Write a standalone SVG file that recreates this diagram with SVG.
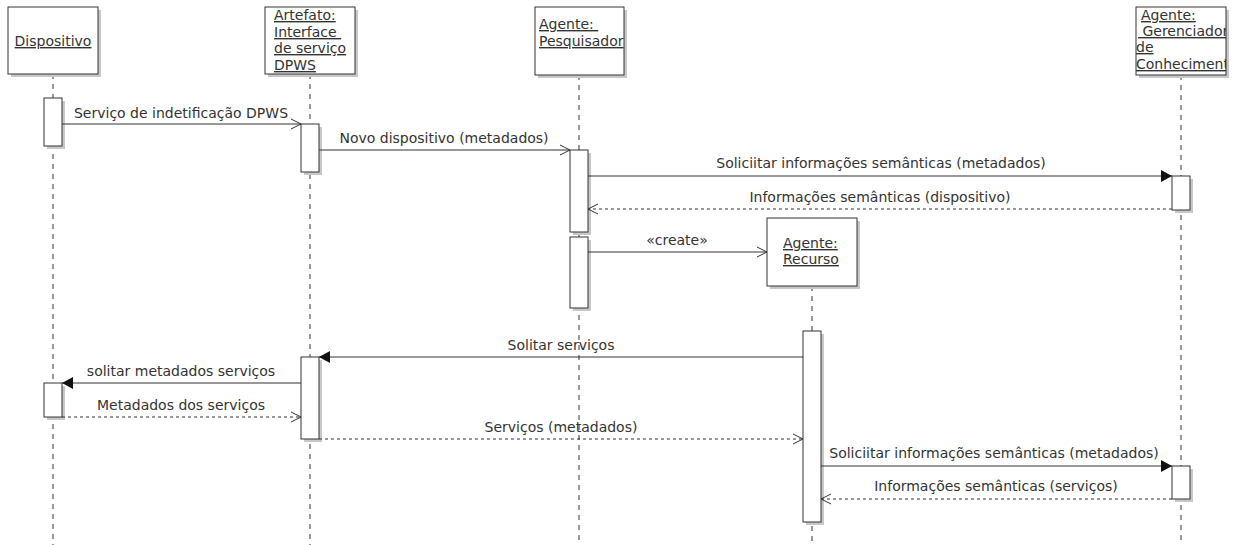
<svg xmlns="http://www.w3.org/2000/svg" width="1233" height="545" viewBox="0 0 1233 545">
<style>
text{font-family:"DejaVu Sans","Liberation Sans",sans-serif;font-size:14px;fill:#333;white-space:pre}
.u{text-decoration:underline}
.m{text-anchor:middle}
.box{fill:#fff;stroke:#333;stroke-width:1}
.sh{fill:#c8c8c8}
.life{stroke:#333;stroke-width:1;stroke-dasharray:5 5;fill:none}
.msg{stroke:#333;stroke-width:1;fill:none}
.dash{stroke-dasharray:3 3}
.open{marker-end:url(#open)}
.fill{marker-end:url(#filled)}
</style>
<defs>
<marker id="open" markerUnits="userSpaceOnUse" markerWidth="12" markerHeight="12" refX="10" refY="6" orient="auto" overflow="visible">
<path d="M0,1 L10,6 L0,11" fill="none" stroke="#333" stroke-width="1"/>
</marker>
<marker id="filled" markerUnits="userSpaceOnUse" markerWidth="12" markerHeight="12" refX="11" refY="6" orient="auto" overflow="visible">
<path d="M0,0 L11,6 L0,12 z" fill="#111" stroke="none"/>
</marker>
<clipPath id="c1"><rect x="535" y="7" width="89" height="68"/></clipPath>
<clipPath id="c2"><rect x="1136" y="7" width="90" height="68"/></clipPath>
</defs>
<rect width="1233" height="545" fill="#fff"/>

<g id="lifelines">
<line class="life" x1="53" y1="74" x2="53" y2="545"/>
<line class="life" x1="310" y1="74" x2="310" y2="545"/>
<line class="life" x1="579" y1="75" x2="579" y2="545"/>
<line class="life" x1="1181" y1="75" x2="1181" y2="545"/>
<line class="life" x1="812" y1="286" x2="812" y2="545"/>
</g>

<g id="dispositivo">
<rect class="sh" x="11" y="10" width="90" height="67"/>
<rect class="box" x="8" y="7" width="90" height="67"/>
<text class="u m" x="53" y="46">Dispositivo</text>
</g>

<g id="artefato">
<rect class="sh" x="268" y="10" width="90" height="67"/>
<rect class="box" x="265" y="7" width="90" height="67"/>
<text class="u" x="274" y="20">Artefato:</text>
<text class="u" x="274" y="37">Interface </text>
<text class="u" x="274" y="53">de serviço</text>
<text class="u" x="274" y="70">DPWS</text>
</g>

<g id="pesquisador">
<rect class="sh" x="538" y="10" width="89" height="68"/>
<rect class="box" x="535" y="7" width="89" height="68"/>
<g clip-path="url(#c1)">
<text class="u" x="539" y="29">Agente: </text>
<text class="u" x="539" y="46">Pesquisador</text>
</g>
</g>

<g id="gerenciador">
<rect class="sh" x="1139" y="10" width="90" height="68"/>
<rect class="box" x="1136" y="7" width="90" height="68"/>
<g clip-path="url(#c2)">
<text class="u" x="1141" y="20">Agente:</text>
<text class="u" x="1138" y="36"> Gerenciador</text>
<text class="u" x="1136" y="52">de</text>
<text class="u" x="1136" y="69">Conheciment</text>
</g>
</g>

<g id="recurso">
<rect class="sh" x="770" y="221" width="90" height="68"/>
<rect class="box" x="767" y="218" width="90" height="68"/>
<text class="u" x="783" y="248">Agente:</text>
<text class="u" x="783" y="264">Recurso</text>
</g>

<g id="activations">
<rect class="sh" x="47" y="101" width="18" height="48"/>
<rect class="box" x="44" y="98" width="18" height="48"/>
<rect class="sh" x="304" y="127" width="18" height="48"/>
<rect class="box" x="301" y="124" width="18" height="48"/>
<rect class="sh" x="573" y="153" width="18" height="82"/>
<rect class="box" x="570" y="150" width="18" height="82"/>
<rect class="sh" x="1175" y="179" width="18" height="34"/>
<rect class="box" x="1172" y="176" width="18" height="34"/>
<rect class="sh" x="573" y="240" width="18" height="71"/>
<rect class="box" x="570" y="237" width="18" height="71"/>
<rect class="sh" x="806" y="334" width="18" height="191"/>
<rect class="box" x="803" y="331" width="18" height="191"/>
<rect class="sh" x="304" y="360" width="18" height="82"/>
<rect class="box" x="301" y="357" width="18" height="82"/>
<rect class="sh" x="47" y="386" width="18" height="34"/>
<rect class="box" x="44" y="383" width="18" height="34"/>
<rect class="sh" x="1175" y="469" width="18" height="33"/>
<rect class="box" x="1172" y="466" width="18" height="33"/>
</g>

<g id="connectors">
<line class="msg open" x1="62" y1="124" x2="301" y2="124"/>
<text class="m" x="181" y="118">Serviço de indetificação DPWS</text>
<line class="msg open" x1="319" y1="150" x2="570" y2="150"/>
<text class="m" x="444" y="143">Novo dispositivo (metadados)</text>
<line class="msg fill" x1="588" y1="176" x2="1172" y2="176"/>
<text class="m" x="881" y="168">Soliciitar informações semânticas (metadados)</text>
<line class="msg dash open" x1="1172" y1="209" x2="588" y2="209"/>
<text class="m" x="880" y="202">Informações semânticas (dispositivo)</text>
<line class="msg open" x1="588" y1="252" x2="767" y2="252"/>
<text class="m" x="677" y="245">«create»</text>
<line class="msg fill" x1="803" y1="357" x2="319" y2="357"/>
<text class="m" x="561" y="350">Solitar serviços</text>
<line class="msg fill" x1="301" y1="383" x2="62" y2="383"/>
<text class="m" x="181" y="376">solitar metadados serviços</text>
<line class="msg dash open" x1="62" y1="417" x2="301" y2="417"/>
<text class="m" x="181" y="410">Metadados dos serviços</text>
<line class="msg dash open" x1="319" y1="439" x2="803" y2="439"/>
<text class="m" x="561" y="432">Serviços (metadados)</text>
<line class="msg fill" x1="821" y1="466" x2="1172" y2="466"/>
<text class="m" x="994" y="458">Soliciitar informações semânticas (metadados)</text>
<line class="msg dash open" x1="1172" y1="499" x2="821" y2="499"/>
<text class="m" x="996" y="491">Informações semânticas (serviços)</text>
</g>
</svg>
